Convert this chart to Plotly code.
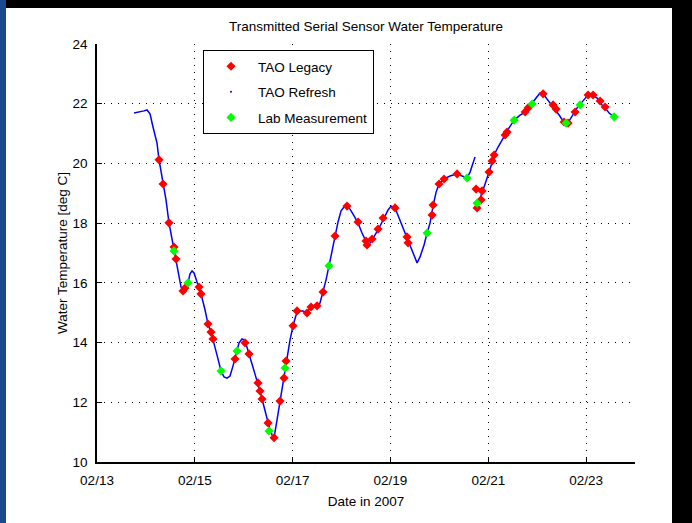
import numpy as np
import pandas as pd
import plotly.graph_objects as go

# ---- data (day of February 2007, temperature degC) ----
refresh_day_a = [13.757, 13.879, 13.961, 14.022, 14.084, 14.145, 14.227, 14.268, 14.350, 14.411,
                 14.472, 14.575, 14.616, 14.677, 14.718, 14.759, 14.820, 14.861, 14.902, 14.943,
                 14.984, 15.045, 15.086, 15.127, 15.209, 15.270, 15.331, 15.372, 15.454, 15.536,
                 15.597, 15.658, 15.720, 15.781, 15.822, 15.863, 15.904, 15.965, 16.006, 16.047,
                 16.108, 16.170, 16.231, 16.292, 16.333, 16.374, 16.436, 16.497, 16.538, 16.579,
                 16.620, 16.681, 16.742, 16.804, 16.845, 16.886, 16.947, 17.008, 17.070, 17.131,
                 17.213, 17.294, 17.356, 17.438, 17.519, 17.560, 17.622, 17.683, 17.744, 17.806,
                 17.867, 17.928, 17.990, 18.051, 18.112, 18.174, 18.256, 18.337, 18.419, 18.501,
                 18.542, 18.624, 18.746, 18.869, 18.951, 19.012, 19.094, 19.176, 19.258, 19.339,
                 19.401, 19.483, 19.544, 19.605, 19.687, 19.749, 19.810, 19.871, 19.933, 19.994,
                 20.096, 20.219, 20.362, 20.464, 20.566, 20.628, 20.689, 20.730]
refresh_temp_a = [21.69, 21.72, 21.76, 21.79, 21.66, 21.22, 20.68, 20.12, 19.31, 18.78,
                  18.01, 17.13, 16.80, 16.26, 15.86, 15.73, 15.83, 16.00, 16.30, 16.40,
                  16.33, 16.03, 15.86, 15.63, 15.09, 14.62, 14.35, 14.12, 13.58, 13.05,
                  12.85, 12.81, 12.88, 13.22, 13.45, 13.72, 13.99, 14.12, 14.09, 13.95,
                  13.62, 13.28, 12.95, 12.65, 12.38, 12.11, 11.71, 11.31, 11.07, 10.91,
                  10.81, 11.41, 12.04, 12.65, 13.15, 13.48, 14.09, 14.56, 14.92, 15.06,
                  15.06, 14.99, 15.16, 15.23, 15.23, 15.33, 15.69, 16.10, 16.57, 17.10,
                  17.57, 18.04, 18.41, 18.54, 18.57, 18.47, 18.24, 18.00, 17.67, 17.37,
                  17.24, 17.44, 17.77, 18.17, 18.44, 18.57, 18.51, 18.17, 17.84, 17.54,
                  17.27, 16.90, 16.67, 16.87, 17.27, 17.67, 18.01, 18.57, 19.04, 19.31,
                  19.48, 19.58, 19.65, 19.58, 19.51, 19.71, 19.98, 20.22]
refresh_day_b = [20.791, 20.853, 20.935, 21.016, 21.078, 21.139, 21.200, 21.282, 21.344, 21.425,
                 21.528, 21.650, 21.753, 21.834, 21.916, 21.998, 22.059, 22.121, 22.202, 22.284,
                 22.366, 22.448, 22.530, 22.591, 22.652, 22.734, 22.816, 22.898, 22.980, 23.061,
                 23.143, 23.225, 23.307, 23.389, 23.470, 23.573]
refresh_temp_b = [18.64, 18.91, 19.31, 19.71, 20.08, 20.35, 20.55, 20.79, 20.95, 21.19,
                  21.45, 21.62, 21.72, 21.89, 22.06, 22.26, 22.36, 22.33, 22.16, 21.99,
                  21.82, 21.62, 21.42, 21.32, 21.42, 21.66, 21.86, 22.02, 22.19, 22.33,
                  22.29, 22.19, 21.99, 21.86, 21.69, 21.56]

legacy_day = [14.268, 14.350, 14.472, 14.575, 14.616, 14.759, 14.800, 15.086, 15.127, 15.270,
              15.331, 15.372, 15.822, 16.027, 16.108, 16.292, 16.333, 16.374, 16.497, 16.620,
              16.742, 16.824, 16.865, 17.008, 17.090, 17.294, 17.376, 17.499, 17.622, 17.867,
              18.112, 18.337, 18.501, 18.521, 18.624, 18.746, 18.849, 19.094, 19.339, 19.360,
              19.851, 19.871, 19.994, 20.096, 20.362, 20.751, 20.873, 20.771, 20.853, 21.016,
              21.078, 21.119, 21.344, 21.384, 21.753, 21.814, 22.121, 22.325, 22.387, 22.550,
              22.632, 22.775, 23.041, 23.143, 23.286, 23.389]
legacy_temp = [20.12, 19.31, 18.01, 17.20, 16.80, 15.73, 15.83, 15.86, 15.63, 14.62,
               14.35, 14.12, 13.45, 13.99, 13.62, 12.65, 12.38, 12.11, 11.31, 10.81,
               12.04, 12.81, 13.38, 14.56, 15.06, 14.99, 15.19, 15.23, 15.69, 17.57,
               18.57, 18.04, 17.40, 17.27, 17.47, 17.80, 18.17, 18.51, 17.54, 17.34,
               18.27, 18.61, 19.31, 19.48, 19.65, 19.14, 19.08, 18.51, 18.78, 19.71,
               20.08, 20.28, 20.95, 21.05, 21.72, 21.86, 22.33, 21.96, 21.82, 21.39,
               21.35, 21.72, 22.29, 22.29, 22.09, 21.89]

lab_day = [14.575, 14.861, 15.536, 15.863, 16.517, 16.845, 17.744, 19.749, 20.566, 20.771,
           21.528, 21.896, 22.591, 22.877, 23.573]
lab_temp = [17.07, 16.00, 13.05, 13.72, 11.04, 13.15, 16.57, 17.67, 19.51, 18.67,
            21.45, 21.99, 21.35, 21.96, 21.56]

tick_days = [13, 15, 17, 19, 21, 23]
tick_labels = ["02/13", "02/15", "02/17", "02/19", "02/21", "02/23"]

BASE = pd.Timestamp("2007-02-01")


def to_dt(days):
    return [(BASE + pd.Timedelta(days=float(d) - 1)).strftime("%Y-%m-%d %H:%M:%S") for d in days]


W, H = 692, 523
L, R, T, B = 97, 57, 44, 61
pw, ph = W - L - R, H - T - B


def px(x):
    return (x - L) / pw


def py(y):
    return (H - B - y) / ph


fig = go.Figure()

line_x = to_dt(refresh_day_a) + [None] + to_dt(refresh_day_b)
line_y = refresh_temp_a + [None] + refresh_temp_b

fig.add_trace(go.Scatter(x=line_x, y=line_y, mode="lines", showlegend=False, legendgroup="b",
                         connectgaps=False, line=dict(color="#0000ff", width=1.5)))
fig.add_trace(go.Scatter(x=to_dt(legacy_day), y=legacy_temp, mode="markers", name="TAO Legacy",
                         legendgroup="a",
                         marker=dict(symbol="diamond", size=7, color="#ff0000",
                                     line=dict(width=0))))
fig.add_trace(go.Scatter(x=[None], y=[None], mode="markers", name="TAO Refresh", legendgroup="b",
                         marker=dict(symbol="circle", size=2, color="#0000ff")))
fig.add_trace(go.Scatter(x=to_dt(lab_day), y=lab_temp, mode="markers", name="Lab Measurement",
                         legendgroup="c",
                         marker=dict(symbol="diamond", size=7, color="#00ff00",
                                     line=dict(width=0))))

FS = 13.5
font = dict(family="Liberation Sans, Arial, sans-serif", size=FS, color="black")

fig.update_layout(
    width=W, height=H,
    margin=dict(l=L, r=R, t=T, b=B, pad=0),
    paper_bgcolor="black",
    plot_bgcolor="white",
    font=font,
    title=dict(text="Transmitted Serial Sensor Water Temperature", x=px(366), xref="paper",
               xanchor="center", y=1 - 26 / H, yanchor="middle", font=dict(size=FS)),
    showlegend=True,
    legend=dict(x=px(203), y=py(50), xanchor="left", yanchor="top",
                bgcolor="white", bordercolor="black", borderwidth=1,
                traceorder="grouped", tracegroupgap=5, font=dict(size=FS),
                itemwidth=44, itemclick=False),
    shapes=[
        dict(type="rect", xref="paper", yref="paper", x0=px(6), x1=px(672), y0=py(523), y1=py(8),
             fillcolor="white", line=dict(width=0), layer="below"),
        dict(type="rect", xref="paper", yref="paper", x0=px(0), x1=px(6), y0=py(523), y1=py(0),
             fillcolor="#1b4a8c", line=dict(width=0), layer="below"),
    ],
)

fig.update_xaxes(
    type="date",
    range=to_dt([13, 24]),
    tickvals=to_dt(tick_days), ticktext=tick_labels,
    showline=True, linecolor="black", linewidth=1.5,
    ticks="inside", ticklen=5, tickcolor="black",
    showgrid=True, gridcolor="black", gridwidth=1, griddash="1px,6px",
    zeroline=False, mirror=False,
    ticklabelstandoff=5,
    title=dict(text="Date in 2007", font=dict(size=FS), standoff=10),
    tickfont=dict(size=FS),
)
fig.update_yaxes(
    range=[10, 24], dtick=2, tick0=10,
    showline=True, linecolor="black", linewidth=1.5,
    ticks="inside", ticklen=5, tickcolor="black",
    showgrid=True, gridcolor="black", gridwidth=1, griddash="1px,6px",
    zeroline=False, mirror=False,
    ticklabelstandoff=5,
    title=dict(text="Water Temperature [deg C]", font=dict(size=FS), standoff=2),
    tickfont=dict(size=FS),
)

fig.write_html("out.html", config={"displayModeBar": False},
               post_script="document.body.style.margin='0';document.body.style.overflow='hidden';")
